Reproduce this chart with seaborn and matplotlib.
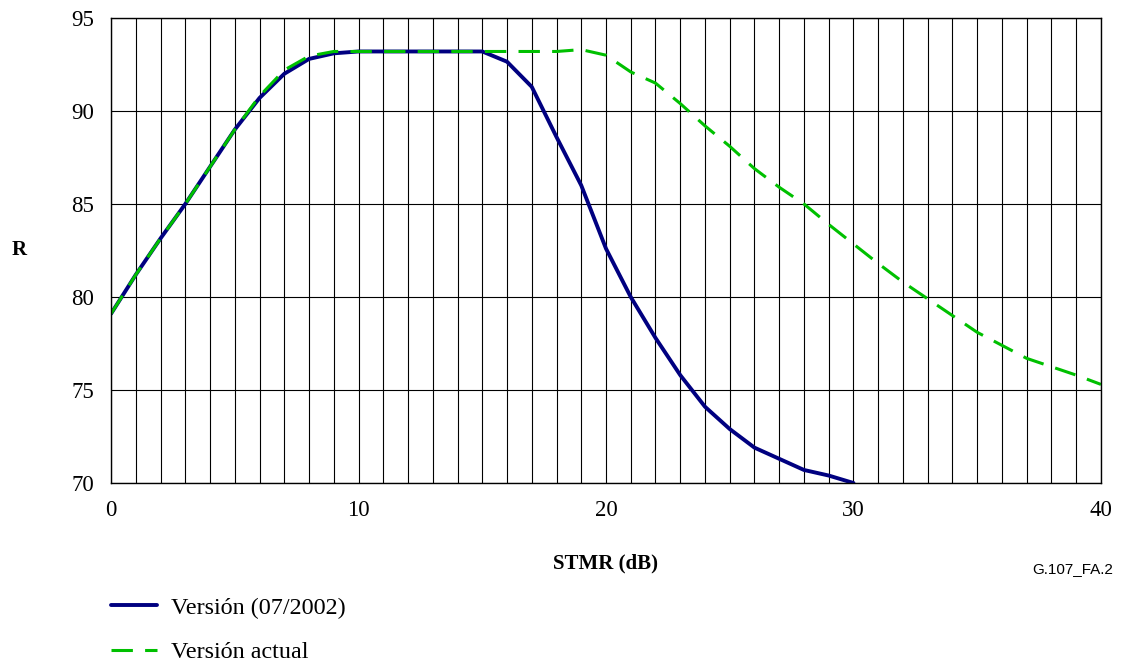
import numpy as np
import pandas as pd
import matplotlib
matplotlib.use("Agg")
import matplotlib.pyplot as plt
import seaborn as sns

# STMR (dB) values and R for the two versions
stmr_old = list(range(0, 31))
r_old = [79.1, 81.2, 83.15, 85.0, 87.0, 89.0, 90.7, 92.0, 92.8, 93.1,
         93.2, 93.2, 93.2, 93.2, 93.2, 93.2, 92.65, 91.3, 88.6, 86.0,
         82.6, 80.0, 77.8, 75.8, 74.1, 72.9, 71.9, 71.3, 70.7, 70.4, 70.0]

stmr_new = list(range(0, 41))
r_new = [79.1, 81.2, 83.15, 85.0, 87.0, 89.0, 90.8, 92.2, 92.95, 93.2,
         93.2, 93.2, 93.2, 93.2, 93.2, 93.2, 93.2, 93.2, 93.2, 93.3,
         93.0, 92.1, 91.5, 90.4, 89.2, 88.1, 86.9, 85.9, 85.0, 83.9,
         82.85, 81.8, 80.8, 79.9, 79.0, 78.1, 77.4, 76.7, 76.25, 75.8, 75.3]

labels = ["Versión (07/2002)", "Versión actual"]

df = pd.concat([
    pd.DataFrame({"STMR": stmr_old, "R": r_old, "serie": labels[0]}),
    pd.DataFrame({"STMR": stmr_new, "R": r_new, "serie": labels[1]}),
])

sns.set_style("white")
plt.rcParams["font.family"] = ["Liberation Serif", "DejaVu Serif"]
plt.rcParams["text.color"] = "black"
plt.rcParams["xtick.color"] = "black"
plt.rcParams["ytick.color"] = "black"

fig = plt.figure(figsize=(11.24, 6.64), dpi=100)
ax = fig.add_axes([0.0988, 0.2726, 0.8807, 0.7003])

sns.lineplot(data=df, x="STMR", y="R", hue="serie", style="serie",
             palette={labels[0]: "#000080", labels[1]: "#00C000"},
             dashes={labels[0]: "", labels[1]: (7, 4)},
             linewidth=2.2, legend=False, ax=ax)
ax.get_lines()[0].set_linewidth(2.8)

ax.set_xlim(0, 40)
ax.set_ylim(70, 95)
ax.set_xticks(np.arange(0, 41, 1), minor=True)
ax.set_xticks([0, 10, 20, 30, 40])
ax.set_yticks([70, 75, 80, 85, 90, 95])
ax.grid(True, which="both", color="black", linewidth=0.8)
ax.set_axisbelow(True)
ax.tick_params(axis="both", which="both", length=0, labelsize=16.5, pad=12,
               labelcolor="black")
for s in ax.spines.values():
    s.set_color("black")
    s.set_linewidth(1.0)

ax.set_xlabel("")
ax.set_ylabel("")
fig.text(0.539, 0.152, "STMR (dB)", ha="center", va="center",
         fontsize=15, fontweight="bold")
fig.text(0.017, 0.623, "R", ha="center", va="center",
         fontsize=15, fontweight="bold")
fig.text(0.990, 0.143, "G.107_FA.2", ha="right", va="center",
         fontsize=11, family=["Liberation Sans", "DejaVu Sans"])

handles = ax.get_lines()[:2]
fig.legend(handles, labels, loc="upper left",
           bbox_to_anchor=(0.0988, 0.101), frameon=False, fontsize=17.4,
           handlelength=1.9, handletextpad=0.58, labelspacing=0.92,
           borderpad=0, borderaxespad=0)

fig.savefig("out.png", dpi=100)
